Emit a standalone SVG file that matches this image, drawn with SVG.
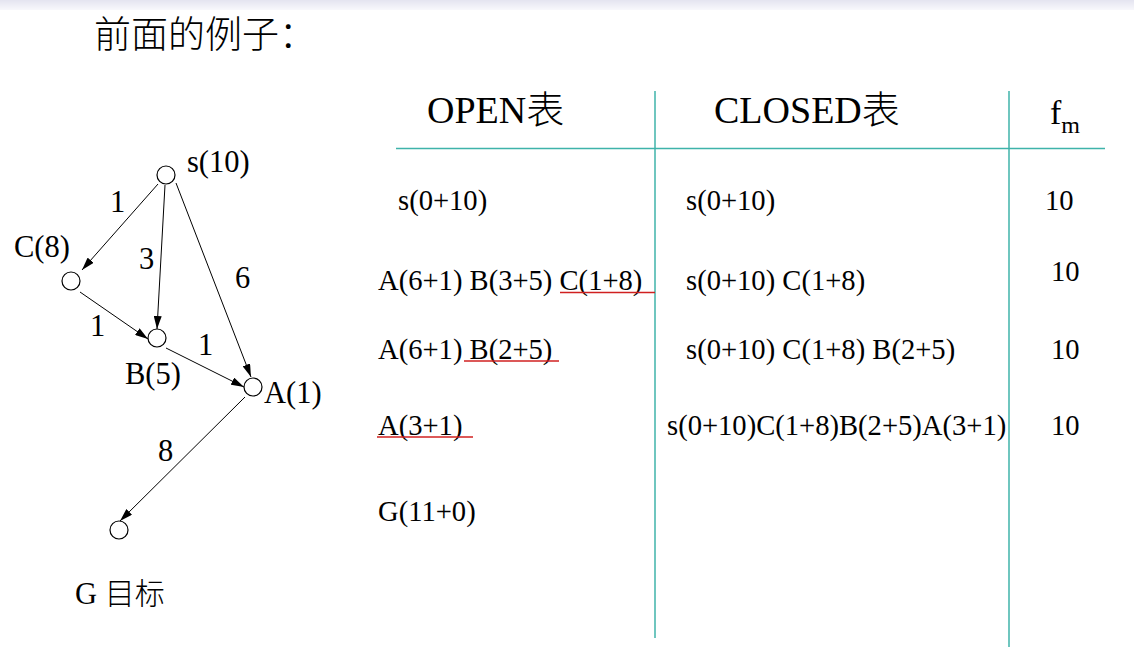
<svg xmlns="http://www.w3.org/2000/svg" width="1134" height="666" viewBox="0 0 1134 666">
<defs>
<linearGradient id="band" x1="0" y1="0" x2="0" y2="1">
<stop offset="0" stop-color="#e4e4f0"/>
<stop offset="1" stop-color="#f8f8fc"/>
</linearGradient>
<marker id="arr" viewBox="0 0 13 8" refX="13" refY="4" markerWidth="13" markerHeight="8" markerUnits="userSpaceOnUse" orient="auto">
<path d="M0,0 L13,4 L0,8 Z" fill="#000"/>
</marker>
<style>
.t{font-family:"Liberation Serif","Noto Sans CJK SC",serif;fill:#000}
.g{font-size:30.5px}
.r{font-size:28.6px}
.h{font-size:38px}
.cjk{font-family:"Noto Sans CJK SC","Liberation Serif",sans-serif;font-weight:300}
.node{fill:#fff;stroke:#000;stroke-width:1.2}
.edge{stroke:#000;stroke-width:1;fill:none;marker-end:url(#arr)}
.grid{stroke:#3fb3aa;stroke-width:1.5}
.ul{stroke:#d02020;stroke-width:1.5}
</style>
</defs>
<rect width="1134" height="666" fill="#fff"/>
<rect width="1134" height="10" fill="url(#band)"/>
<text class="t cjk" x="94" y="48" font-size="37">前面的例子：</text>

<g id="connectors">
<line class="edge" x1="158" y1="184" x2="82" y2="270"/>
<line class="edge" x1="165" y1="185" x2="157" y2="329"/>
<line class="edge" x1="176" y1="183" x2="251" y2="377"/>
<line class="edge" x1="80" y1="292" x2="148" y2="339"/>
<line class="edge" x1="166" y1="348" x2="244" y2="387"/>
<line class="edge" x1="245" y1="397" x2="120" y2="521"/>
<text class="t g" x="110" y="212">1</text>
<text class="t g" x="139" y="269">3</text>
<text class="t g" x="235" y="288">6</text>
<text class="t g" x="90" y="336">1</text>
<text class="t g" x="198" y="355">1</text>
<text class="t g" x="158" y="461">8</text>
</g>

<g id="node-s"><circle class="node" cx="166" cy="175" r="9"/><text class="t g" x="187" y="172">s(10)</text></g>
<g id="node-C"><circle class="node" cx="71" cy="281" r="9"/><text class="t g" x="14" y="257">C(8)</text></g>
<g id="node-B"><circle class="node" cx="157" cy="338" r="9"/><text class="t g" x="125" y="384">B(5)</text></g>
<g id="node-A"><circle class="node" cx="253" cy="387" r="9"/><text class="t g" x="264" y="403">A(1)</text></g>
<g id="node-G"><circle class="node" cx="119" cy="530" r="9"/><text class="t g" x="75" y="604">G <tspan class="cjk" font-size="30">目标</tspan></text></g>

<g id="table">
<line class="grid" x1="396" y1="148.5" x2="1105" y2="148.5"/>
<line class="grid" x1="655" y1="91" x2="655" y2="638"/>
<line class="grid" x1="1009" y1="91" x2="1009" y2="647"/>
<text class="t h" x="427" y="123">OPEN<tspan class="cjk">表</tspan></text>
<text class="t h" x="714" y="123">CLOSED<tspan class="cjk">表</tspan></text>
<text class="t" x="1050" y="124" font-size="34">f<tspan font-size="24" dy="9">m</tspan></text>

<text class="t r" x="398" y="210">s(0+10)</text>
<text class="t r" x="686" y="210">s(0+10)</text>
<text class="t r" x="1045" y="210">10</text>

<text class="t r" x="378" y="290">A(6+1) B(3+5) C(1+8)</text>
<text class="t r" x="686" y="290">s(0+10) C(1+8)</text>
<text class="t r" x="1051" y="281">10</text>
<line class="ul" x1="560" y1="292.5" x2="655" y2="292.5"/>

<text class="t r" x="378" y="359">A(6+1) B(2+5)</text>
<text class="t r" x="686" y="359">s(0+10) C(1+8) B(2+5)</text>
<text class="t r" x="1051" y="359">10</text>
<line class="ul" x1="464" y1="361" x2="559" y2="361"/>

<text class="t r" x="378" y="435">A(3+1)</text>
<text class="t r" x="667" y="435">s(0+10)C(1+8)B(2+5)A(3+1)</text>
<text class="t r" x="1051" y="435">10</text>
<line class="ul" x1="377" y1="437" x2="473" y2="437"/>

<text class="t r" x="378" y="521">G(11+0)</text>
</g>
</svg>
